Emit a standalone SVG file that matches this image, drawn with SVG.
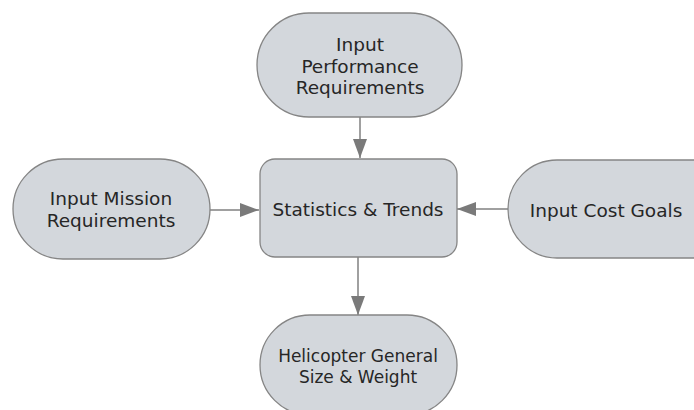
<svg xmlns="http://www.w3.org/2000/svg" width="694" height="410" viewBox="0 0 694 410">
<defs>
<style>
.n{fill:#d3d7dc;stroke:#858585;stroke-width:1.3}
.t{font-family:"DejaVu Sans",Verdana,sans-serif;font-size:18.5px;fill:#262626;text-anchor:middle}
.s{font-size:17px}
.c{stroke:#808080;stroke-width:1.5;fill:none}
</style>
<marker id="ah" markerWidth="19" markerHeight="14" refX="19" refY="7" orient="auto" markerUnits="userSpaceOnUse">
<path d="M0,0 L19,7 L0,14 Z" fill="#7a7a7a"/>
</marker>
</defs>
<rect width="694" height="410" fill="#ffffff"/>
<g id="connectors">
<line class="c" x1="360" y1="117" x2="360" y2="158" marker-end="url(#ah)"/>
<line class="c" x1="210" y1="210" x2="259" y2="210" marker-end="url(#ah)"/>
<line class="c" x1="508" y1="209" x2="457" y2="209" marker-end="url(#ah)"/>
<line class="c" x1="358" y1="257" x2="358" y2="315" marker-end="url(#ah)"/>
</g>
<g id="top">
<rect class="n" x="257" y="13" width="205" height="104" rx="52"/>
<text class="t" x="360" y="51">Input</text>
<text class="t" x="360" y="73">Performance</text>
<text class="t" x="360" y="94">Requirements</text>
</g>
<g id="left">
<rect class="n" x="13" y="159" width="197" height="100" rx="50"/>
<text class="t" x="111" y="205">Input Mission</text>
<text class="t" x="111" y="227">Requirements</text>
</g>
<g id="center">
<rect class="n" x="260" y="159" width="197" height="98" rx="15"/>
<text class="t" x="358" y="216">Statistics &amp; Trends</text>
</g>
<g id="right">
<rect class="n" x="508" y="160" width="240" height="98" rx="49"/>
<text class="t" x="606" y="217">Input Cost Goals</text>
</g>
<g id="bottom">
<rect class="n" x="260" y="315" width="197" height="100" rx="50"/>
<text class="t s" x="358" y="362">Helicopter General</text>
<text class="t s" x="358" y="383">Size &amp; Weight</text>
</g>
</svg>
